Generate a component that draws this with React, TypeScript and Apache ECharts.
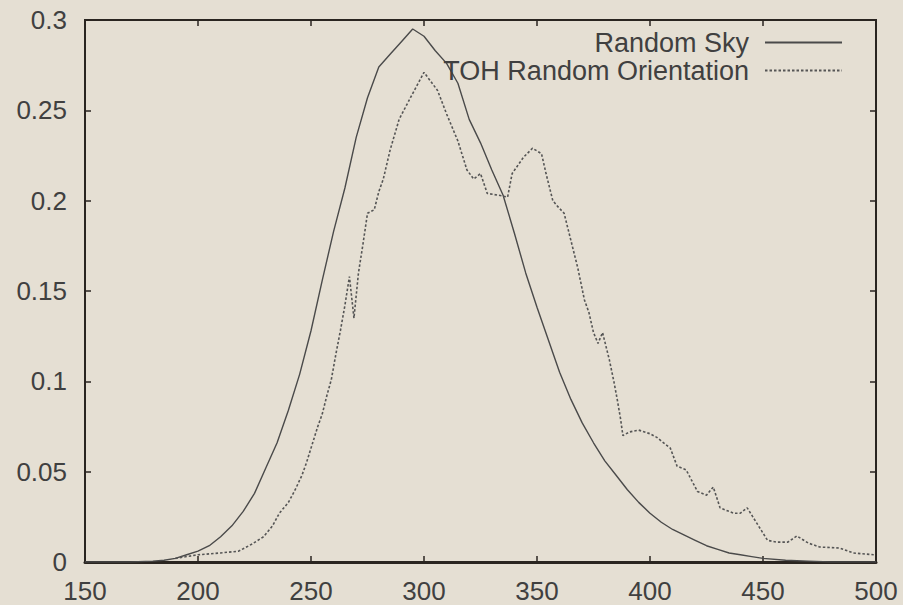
import React, { useEffect, useRef } from "react";
import * as echarts from "echarts";

const skyX = [150, 160, 170, 180, 185, 190, 195, 200, 205, 210, 215, 220, 225, 230, 235, 240, 245, 250, 255, 260, 265, 270, 275, 280, 285, 290, 295, 300, 305, 310, 315, 320, 325, 330, 335, 340, 345, 350, 355, 360, 365, 370, 375, 380, 385, 390, 395, 400, 405, 410, 415, 420, 425, 430, 435, 440, 445, 450, 460, 470, 480, 490, 500];
const skyY = [0, 0, 0, 0.0005, 0.001, 0.002, 0.004, 0.006, 0.009, 0.014, 0.02, 0.028, 0.038, 0.052, 0.066, 0.084, 0.104, 0.128, 0.156, 0.183, 0.207, 0.235, 0.257, 0.274, 0.281, 0.288, 0.295, 0.291, 0.283, 0.276, 0.265, 0.245, 0.232, 0.217, 0.203, 0.182, 0.16, 0.141, 0.123, 0.105, 0.09, 0.077, 0.066, 0.056, 0.048, 0.04, 0.033, 0.027, 0.022, 0.018, 0.015, 0.012, 0.009, 0.007, 0.005, 0.004, 0.003, 0.002, 0.001, 0.0005, 0, 0, 0];

const tohX = [190, 200, 210, 218, 224, 229, 233, 236, 240, 243, 246, 248, 251, 253, 255, 257, 259, 261, 263, 265, 267, 269, 271, 273, 275, 278, 280, 282, 285, 289, 294, 300, 303, 306, 310, 315, 319, 322, 325, 328, 333, 337, 339, 344, 348, 352, 354, 357, 359, 362, 365, 368, 371, 373, 375, 377, 379, 382, 384, 385.5, 387, 388, 391, 395, 400, 403, 406, 409, 412, 416, 421, 425, 428, 431, 437, 440, 443, 447, 452, 456, 461, 465, 470, 475, 484, 490, 499];
const tohY = [0.002, 0.004, 0.005, 0.006, 0.01, 0.014, 0.02, 0.027, 0.033, 0.04, 0.048, 0.055, 0.067, 0.075, 0.082, 0.092, 0.101, 0.115, 0.128, 0.142, 0.158, 0.135, 0.16, 0.176, 0.193, 0.195, 0.205, 0.212, 0.228, 0.245, 0.257, 0.271, 0.266, 0.261, 0.248, 0.233, 0.217, 0.212, 0.215, 0.204, 0.203, 0.202, 0.215, 0.224, 0.229, 0.226, 0.215, 0.2, 0.197, 0.193, 0.178, 0.163, 0.145, 0.138, 0.127, 0.121, 0.127, 0.112, 0.1, 0.09, 0.079, 0.07, 0.072, 0.073, 0.071, 0.069, 0.066, 0.063, 0.053, 0.051, 0.039, 0.037, 0.0415, 0.03, 0.027, 0.027, 0.03, 0.022, 0.012, 0.011, 0.011, 0.0144, 0.0105, 0.0083, 0.0077, 0.005, 0.004];

const seriesNames = ["Random Sky", "TOH Random Orientation"];
const xTicks = [150, 200, 250, 300, 350, 400, 450, 500];
const yTicks = [0, 0.05, 0.1, 0.15, 0.2, 0.25, 0.3];
const yTickLabels = ["0", "0.05", "0.1", "0.15", "0.2", "0.25", "0.3"];

const zip = (xs: number[], ys: number[]) => xs.map((x, i) => [x, ys[i]]);

export default function App() {
  const ref = useRef<HTMLDivElement>(null);
  useEffect(() => {
    if (!ref.current) return;
    const chart = echarts.init(ref.current, null, { renderer: "svg" });
    const font = "'Liberation Sans', Arial, Helvetica, sans-serif";
    const tickColor = "#2a2520";
    const textColor = "#404040";
    const xBase = {
      type: "value" as const,
      min: xTicks[0],
      max: xTicks[xTicks.length - 1],
      interval: 50,
      splitLine: { show: false },
      axisTick: { show: true, inside: true, length: 6, lineStyle: { color: tickColor, width: 1.5 } },
    };
    const yBase = {
      type: "value" as const,
      min: yTicks[0],
      max: yTicks[yTicks.length - 1],
      interval: 0.05,
      splitLine: { show: false },
      axisTick: { show: true, inside: true, length: 6, lineStyle: { color: tickColor, width: 1.5 } },
    };
    const legendCommon = {
      orient: "horizontal" as const,
      align: "right" as const,
      right: 55,
      itemWidth: 77,
      itemHeight: 14,
      itemStyle: { opacity: 0 },
      textStyle: { fontFamily: font, fontSize: 27, color: textColor, padding: [0, 11, 0, 0] },
      selectedMode: false,
    };
    chart.setOption({
      animation: false,
      backgroundColor: "#e5dfd3",
      grid: { left: 85, right: 27, top: 20, bottom: 43, show: true, borderColor: "#2a2520", borderWidth: 2, backgroundColor: "transparent" },
      legend: [
        { ...legendCommon, top: 24, data: [seriesNames[0]] },
        { ...legendCommon, top: 52, data: [seriesNames[1]] },
      ],
      xAxis: [
        {
          ...xBase,
          position: "bottom",
          axisLine: { show: true, onZero: false, lineStyle: { color: tickColor, width: 3 } },
          axisLabel: { show: true, margin: 16, fontFamily: font, fontSize: 26, color: textColor, showMaxLabel: true, showMinLabel: true },
        },
        {
          ...xBase,
          position: "top",
          axisLine: { show: true, onZero: false, lineStyle: { color: tickColor, width: 2 } },
          axisLabel: { show: false },
        },
      ],
      yAxis: [
        {
          ...yBase,
          position: "left",
          axisLine: { show: true, onZero: false, lineStyle: { color: tickColor, width: 2 } },
          axisLabel: {
            show: true,
            margin: 18,
            fontFamily: font,
            fontSize: 26,
            color: textColor,
            formatter: (v: number) => {
              const i = yTicks.findIndex((t) => Math.abs(t - v) < 1e-9);
              return i >= 0 ? yTickLabels[i] : "";
            },
          },
        },
        {
          ...yBase,
          position: "right",
          axisLine: { show: true, onZero: false, lineStyle: { color: tickColor, width: 2 } },
          axisLabel: { show: false },
        },
      ],
      series: [
        {
          name: seriesNames[0],
          type: "line",
          xAxisIndex: 0,
          yAxisIndex: 0,
          data: zip(skyX, skyY),
          showSymbol: false,
          symbol: "none",
          smooth: false,
          lineStyle: { color: "#4a4a4a", width: 1.4, type: "solid" },
          itemStyle: { color: "#4a4a4a" },
        },
        {
          name: seriesNames[1],
          type: "line",
          xAxisIndex: 0,
          yAxisIndex: 0,
          data: zip(tohX, tohY),
          showSymbol: false,
          symbol: "none",
          smooth: false,
          lineStyle: { color: "#555555", width: 1.6, type: [2.5, 2] },
          itemStyle: { color: "#555555" },
        },
      ],
    });
    return () => chart.dispose();
  }, []);
  return <div ref={ref} style={{ width: 903, height: 605, position: "absolute", left: 0, top: 0 }} />;
}
